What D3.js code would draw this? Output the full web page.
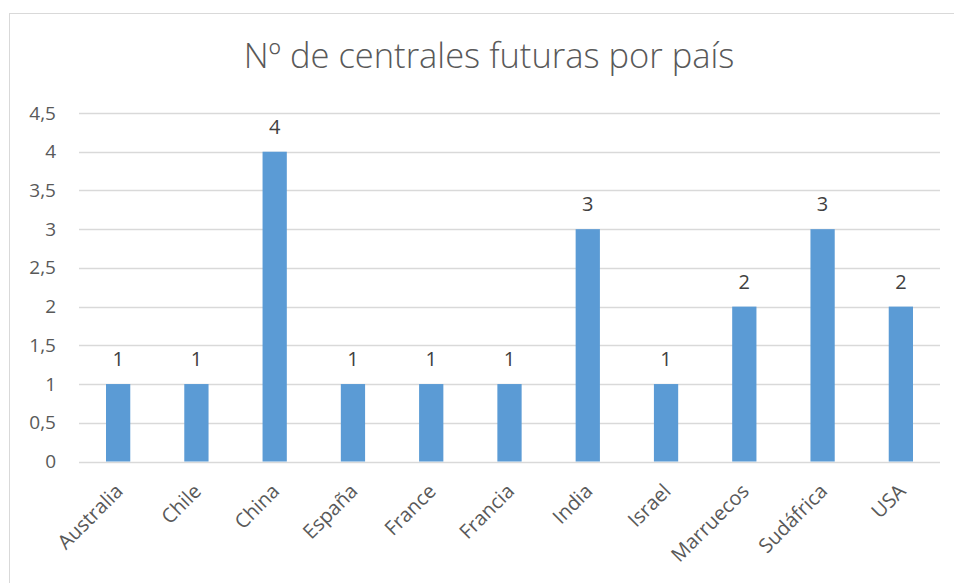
<!DOCTYPE html>
<html>
<head>
<meta charset="utf-8">
<script src="https://cdn.jsdelivr.net/npm/d3@7"></script>
<style>
  body { margin: 0; background: #fff; }
  text { font-family: "Open Sans", "Noto Sans", sans-serif; }
</style>
</head>
<body>
<div id="chart"></div>
<script>
// data
const countries = ["Australia", "Chile", "China", "España", "France", "Francia", "India", "Israel", "Marruecos", "Sudáfrica", "USA"];
const plants = [1, 1, 4, 1, 1, 1, 3, 1, 2, 3, 2];
const yTicks = [0, 0.5, 1, 1.5, 2, 2.5, 3, 3.5, 4, 4.5];
const title = "Nº de centrales futuras por país";

const width = 954, height = 583;
const margin = {top: 113, right: 14, bottom: 121.5, left: 79};

const svg = d3.select("#chart")
    .append("svg")
    .attr("width", width)
    .attr("height", height);

// chart frame
svg.append("rect")
    .attr("x", 9.5)
    .attr("y", 13.5)
    .attr("width", 960)
    .attr("height", 600)
    .attr("fill", "none")
    .attr("stroke", "#d9d9d9");

const x = d3.scaleBand()
    .domain(countries)
    .range([margin.left, width - margin.right])
    .paddingInner(0.69)
    .paddingOuter(0.345);

const y = d3.scaleLinear()
    .domain([0, 4.5])
    .range([height - margin.bottom, margin.top]);

const fmt = d => String(d).replace(".", ",");

// gridlines
svg.append("g")
    .selectAll("line")
    .data(yTicks)
    .enter()
    .append("line")
    .attr("x1", margin.left)
    .attr("x2", width - margin.right)
    .attr("y1", d => Math.round(y(d)) + 0.5)
    .attr("y2", d => Math.round(y(d)) + 0.5)
    .attr("stroke", "#d9d9d9")
    .attr("stroke-width", 1.3);

// y axis labels
const yAxis = svg.append("g")
    .attr("transform", `translate(${margin.left},0)`)
    .call(d3.axisLeft(y).tickValues(yTicks).tickFormat(fmt).tickSize(0).tickPadding(23));
yAxis.select(".domain").remove();
yAxis.selectAll("text")
    .attr("fill", "#595959")
    .style("font-size", "19px")
    .style("font-family", "'Open Sans', sans-serif");

// bars
svg.append("g")
    .selectAll("rect")
    .data(plants)
    .enter()
    .append("rect")
    .attr("x", (d, i) => x(countries[i]))
    .attr("y", d => y(d))
    .attr("width", x.bandwidth())
    .attr("height", d => y(0) - y(d))
    .attr("fill", "#5b9bd5");

// value labels
svg.append("g")
    .selectAll("text")
    .data(plants)
    .enter()
    .append("text")
    .attr("x", (d, i) => x(countries[i]) + x.bandwidth() / 2)
    .attr("y", d => y(d) - 18)
    .attr("text-anchor", "middle")
    .attr("fill", "#404040")
    .style("font-size", "20px")
    .text(d => d);

// x axis labels
const xAxis = svg.append("g")
    .attr("transform", `translate(0,${y(0)})`)
    .call(d3.axisBottom(x).tickSize(0).tickPadding(0));
xAxis.select(".domain").remove();
xAxis.selectAll("text")
    .attr("fill", "#595959")
    .style("font-size", "20px")
    .style("font-family", "'Open Sans', sans-serif")
    .attr("text-anchor", "end")
    .attr("dy", null)
    .attr("y", 0)
    .attr("transform", "translate(6,31) rotate(-45)");

// title
svg.append("text")
    .attr("x", 489)
    .attr("y", 68)
    .attr("text-anchor", "middle")
    .attr("fill", "#595959")
    .style("font-size", "34.5px")
    .style("font-weight", 300)
    .text(title);
</script>
</body>
</html>
